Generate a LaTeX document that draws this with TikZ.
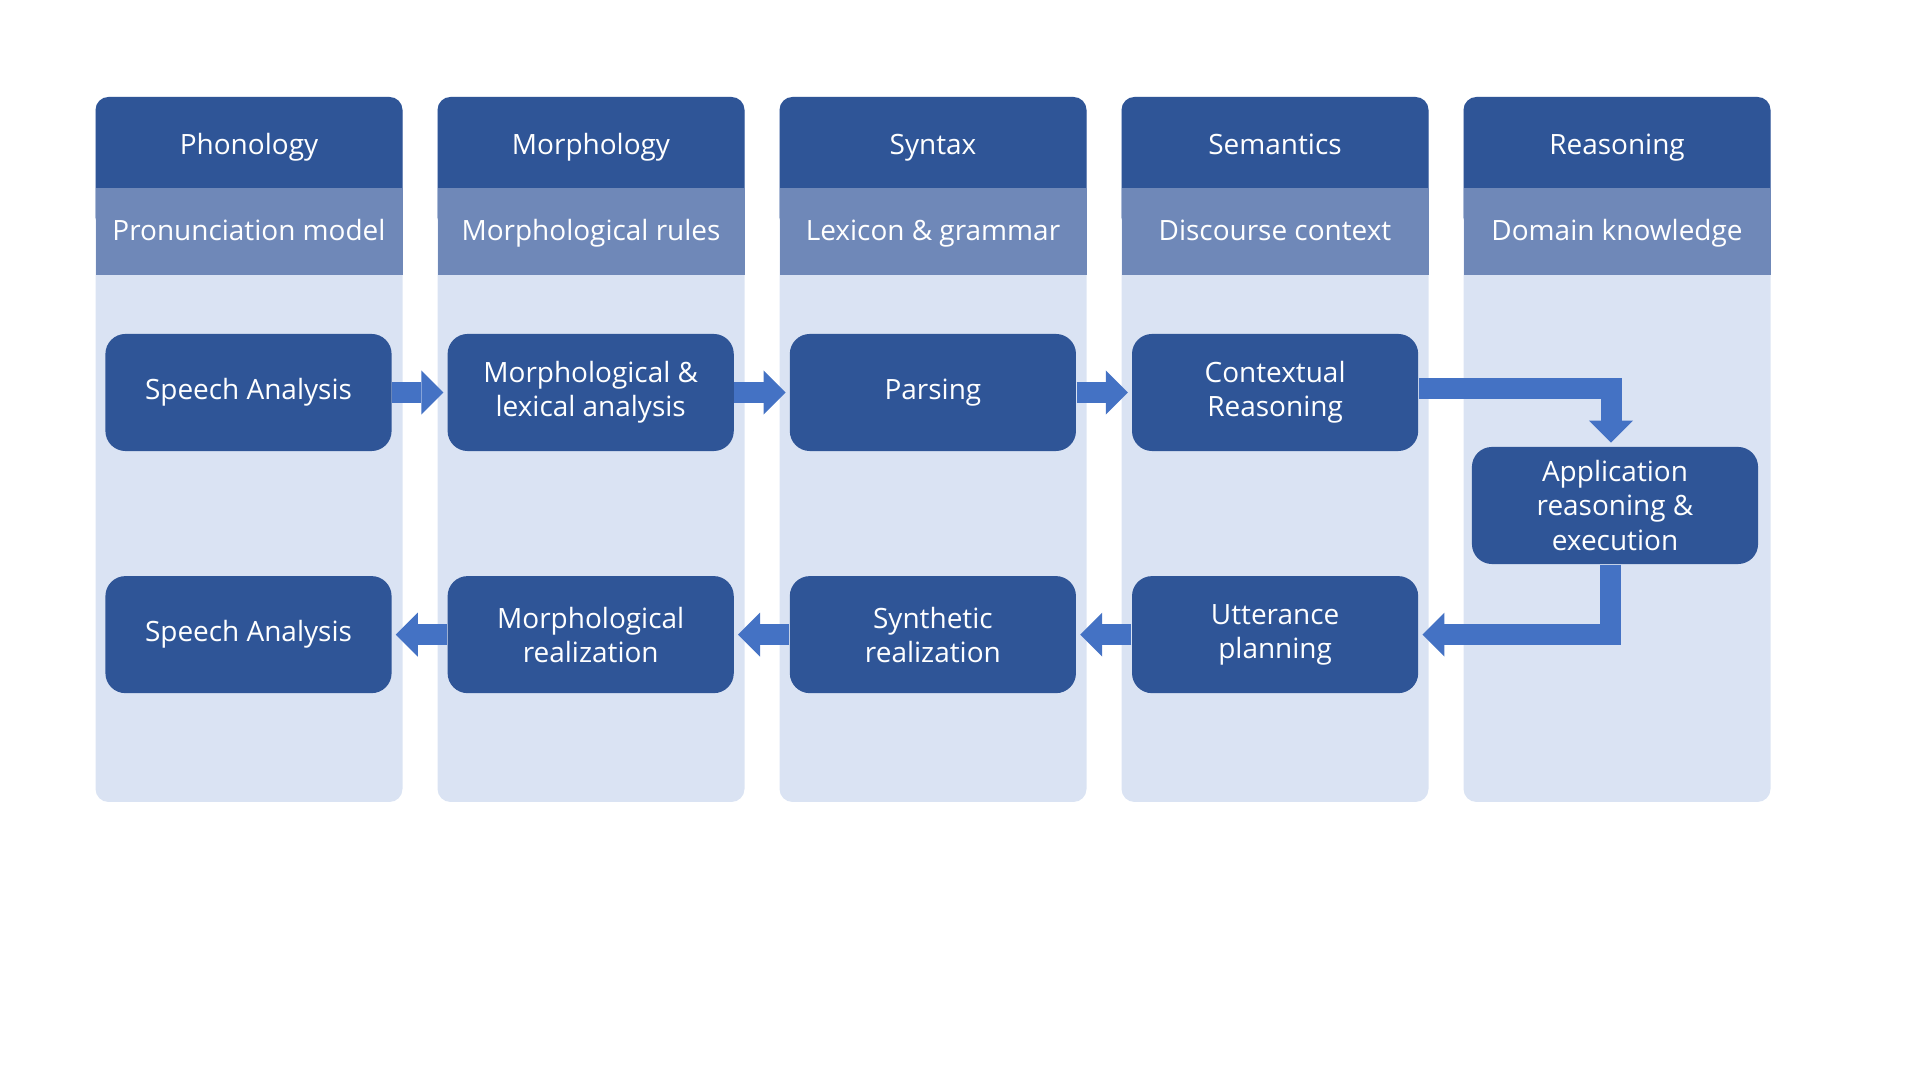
\documentclass[tikz,border=0pt]{standalone}
\usepackage{fontspec}
\setmainfont{Open Sans}
\usepackage{tikz}
\usetikzlibrary{arrows.meta,positioning}
\definecolor{azuloscuro}{HTML}{2F5597}
\definecolor{azulmedio}{HTML}{6F88B8}
\definecolor{azulclaro}{HTML}{DAE3F3}
\definecolor{azulflecha}{HTML}{4472C4}

\begin{document}
\begin{tikzpicture}[x=0.01cm, y=-0.01cm, shorten >=1pt, node distance=3.42cm, on grid]

    % Estilos
    \tikzstyle{caja}=[rectangle, rounded corners=0.2cm, fill=azuloscuro, text=white, align=center, minimum width=2.86cm, minimum height=1.17cm, inner sep=1pt, font=\fontsize{7.95}{9.7}\selectfont]
    \tikzstyle{titulo}=[text=white, anchor=base, font=\fontsize{7.95}{10}\selectfont]
    \tikzstyle{subtitulo}=[text=white, anchor=base, font=\fontsize{7.95}{10}\selectfont]
    \tikzstyle{flecha}=[draw=azulflecha, line width=0.21cm, line join=miter, -{Triangle[length=0.22cm, width=0.44cm, line width=0pt]}]

    \useasboundingbox (0,0) rectangle (1920,1080);

    % Columnas con cabecera y subcabecera
    \foreach \i/\cab/\sub in {0/Phonology/Pronunciation model, 1/Morphology/Morphological rules, 2/Syntax/Lexicon \& grammar, 3/Semantics/Discourse context, 4/Reasoning/Domain knowledge} {
        \pgfmathsetmacro{\xc}{249+342*\i}
        \fill[azulclaro, rounded corners=0.13cm] (\xc-153.5,97) rectangle (\xc+153.5,802);
        \fill[azuloscuro, rounded corners=0.13cm] (\xc-153.5,97) rectangle (\xc+153.5,230);
        \fill[azulmedio] (\xc-153.5,188) rectangle (\xc+153.5,275);
        \node[titulo] (cab\i) at (\xc,154.5) {\cab};
        \node[subtitulo] (sub\i) at (\xc,240.5) {\sub};
    }

    % Cajas del proceso (fila superior)
    \node[caja] (sa1) at (248.5,392.5) {Speech Analysis};
    \node[caja] (ma1) [right=of sa1] {Morphological \&\\lexical analysis};
    \node[caja] (pa1) [right=of ma1] {Parsing};
    \node[caja] (cr1) [right=of pa1] {Contextual\\Reasoning};
    \node[caja] (ap) at (1615,505.5) {Application\\reasoning \&\\execution};

    % Cajas del proceso (fila inferior)
    \node[caja] (sa2) [below=2.42cm of sa1] {Speech Analysis};
    \node[caja] (mr2) [right=of sa2] {Morphological\\realization};
    \node[caja] (sr2) [right=of mr2] {Synthetic\\realization};
    \node[caja] (up2) [right=of sr2] {Utterance\\planning};

    % Flechas entre cajas
    \path (sa1) edge[flecha] (ma1)
          (ma1) edge[flecha] (pa1)
          (pa1) edge[flecha] (cr1)
          (up2) edge[flecha] (sr2)
          (sr2) edge[flecha] (mr2)
          (mr2) edge[flecha] (sa2);
    \draw[flecha] ([yshift=0.035cm]cr1.east) -| ([xshift=-0.04cm]ap.north);
    \draw[flecha] ([xshift=-0.05cm]ap.south) |- (up2.east);
\end{tikzpicture}
\end{document}
